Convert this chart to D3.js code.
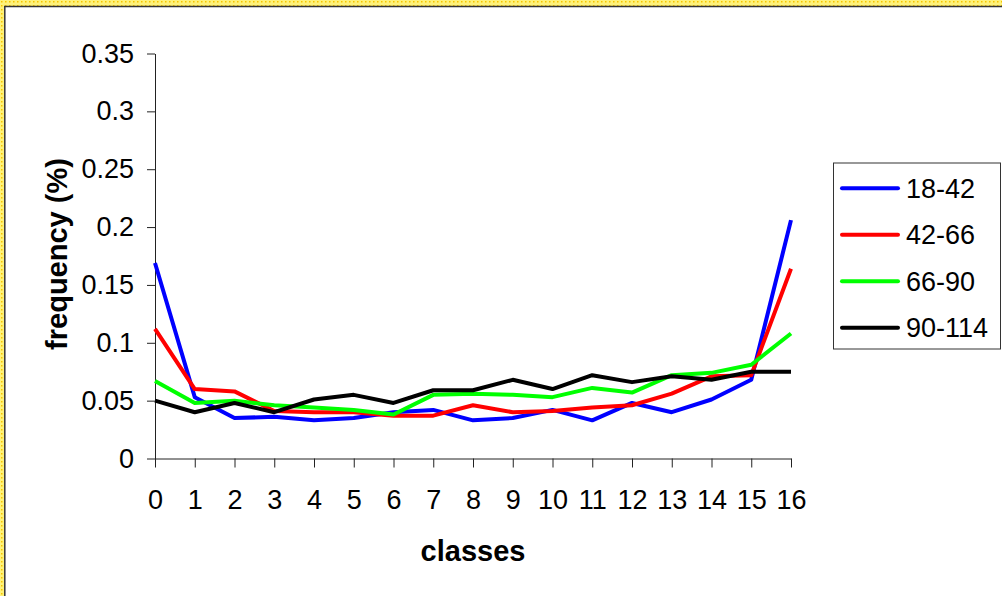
<!DOCTYPE html>
<html>
<head>
<meta charset="utf-8">
<script src="https://cdn.jsdelivr.net/npm/d3@7"></script>
<style>
  html, body { margin: 0; padding: 0; background: #fff; }
  svg { display: block; }
  text { font-family: "Liberation Sans", Arial, sans-serif; fill: #000; }
</style>
</head>
<body>
<script>
// ---- data ----
const classes = [0,1,2,3,4,5,6,7,8,9,10,11,12,13,14,15,16];
const seriesNames = ["18-42", "42-66", "66-90", "90-114"];
const s18_42  = [0.169,0.053,0.035,0.036,0.033,0.035,0.040,0.042,0.033,0.035,0.042,0.033,0.048,0.040,0.051,0.068,0.206];
const s42_66  = [0.112,0.060,0.058,0.041,0.040,0.040,0.037,0.037,0.046,0.040,0.041,0.044,0.046,0.056,0.071,0.072,0.164];
const s66_90  = [0.067,0.048,0.050,0.046,0.044,0.042,0.038,0.055,0.056,0.055,0.053,0.061,0.057,0.072,0.074,0.081,0.108];
const s90_114 = [0.050,0.040,0.048,0.040,0.051,0.055,0.048,0.059,0.059,0.068,0.060,0.072,0.066,0.071,0.068,0.075,0.075];
const yTicks = [0, 0.05, 0.1, 0.15, 0.2, 0.25, 0.3, 0.35];
const yTickLabels = ["0", "0.05", "0.1", "0.15", "0.2", "0.25", "0.3", "0.35"];
const xTickLabels = classes.map(String);
const colors = ["#0000ff", "#ff0000", "#00ff00", "#000000"];
const allSeries = [s18_42, s42_66, s66_90, s90_114];

const W = 1002, H = 596;
const svg = d3.select("body").append("svg").attr("width", W).attr("height", H);

// selection-style yellow border (top & left)
const defs = svg.append("defs");
const pat = defs.append("pattern").attr("id", "dots").attr("width", 4).attr("height", 4)
  .attr("patternUnits", "userSpaceOnUse");
pat.append("rect").attr("width", 4).attr("height", 4).attr("fill", "#fff27a");
pat.append("rect").attr("x", 1).attr("y", 1).attr("width", 1.5).attr("height", 1.5).attr("fill", "#f5c400");
svg.append("rect").attr("x", 0).attr("y", 0).attr("width", W).attr("height", 6).attr("fill", "url(#dots)");
svg.append("rect").attr("x", 0).attr("y", 0).attr("width", 4).attr("height", H).attr("fill", "url(#dots)");
svg.append("line").attr("x1", 4).attr("x2", W).attr("y1", 6.5).attr("y2", 6.5).attr("stroke", "#333").attr("stroke-width", 1.5);
svg.append("line").attr("x1", 4.8).attr("x2", 4.8).attr("y1", 6).attr("y2", H).attr("stroke", "#333").attr("stroke-width", 1.5);

const x = d3.scaleLinear().domain([0, 16]).range([155, 791]);
const y = d3.scaleLinear().domain([0, 0.35]).range([458.5, 53.5]);

const fs = 27;

// y axis
const yAxis = svg.append("g").attr("transform", "translate(155,0)")
  .call(d3.axisLeft(y).tickValues(yTicks).tickFormat((d, i) => yTickLabels[i])
    .tickSize(8).tickSizeOuter(0).tickPadding(13));
// x axis
const xAxis = svg.append("g").attr("transform", "translate(0,458.5)")
  .call(d3.axisBottom(x).tickValues(classes).tickFormat((d, i) => xTickLabels[i])
    .tickSize(9).tickSizeOuter(0).tickPadding(22));
[yAxis, xAxis].forEach(g => {
  g.selectAll("path, line").attr("stroke", "#222").attr("stroke-width", 1);
  g.selectAll("text").style("font-size", fs + "px").style("font-family", "'Liberation Sans', Arial, sans-serif").attr("fill", "#000");
});

// lines
const line = d3.line().x((d, i) => x(classes[i])).y(d => y(d));
allSeries.forEach((s, k) => {
  svg.append("path").datum(s).attr("d", line)
    .attr("fill", "none").attr("stroke", colors[k]).attr("stroke-width", 4)
    .attr("stroke-linejoin", "round").attr("stroke-linecap", "butt");
});

// axis titles
svg.append("text").attr("x", 473).attr("y", 561).attr("text-anchor", "middle")
  .style("font-size", "29px").style("font-weight", "bold").text("classes");
svg.append("text").attr("transform", "translate(67,254) rotate(-90)").attr("text-anchor", "middle")
  .style("font-size", "29px").style("font-weight", "bold").text("frequency (%)");

// legend
const lg = svg.append("g");
lg.append("rect").attr("x", 833.5).attr("y", 163).attr("width", 167).attr("height", 186)
  .attr("fill", "#fff").attr("stroke", "#333").attr("stroke-width", 1);
const ly = d3.scalePoint().domain(seriesNames).range([188.3, 327.7]);
seriesNames.forEach((n, k) => {
  lg.append("line").attr("x1", 842).attr("x2", 898).attr("y1", ly(n)).attr("y2", ly(n))
    .attr("stroke", colors[k]).attr("stroke-width", 4).attr("stroke-linecap", "round");
  lg.append("text").attr("x", 906).attr("y", ly(n) + 9.7).style("font-size", fs + "px").text(n);
});
</script>
</body>
</html>
